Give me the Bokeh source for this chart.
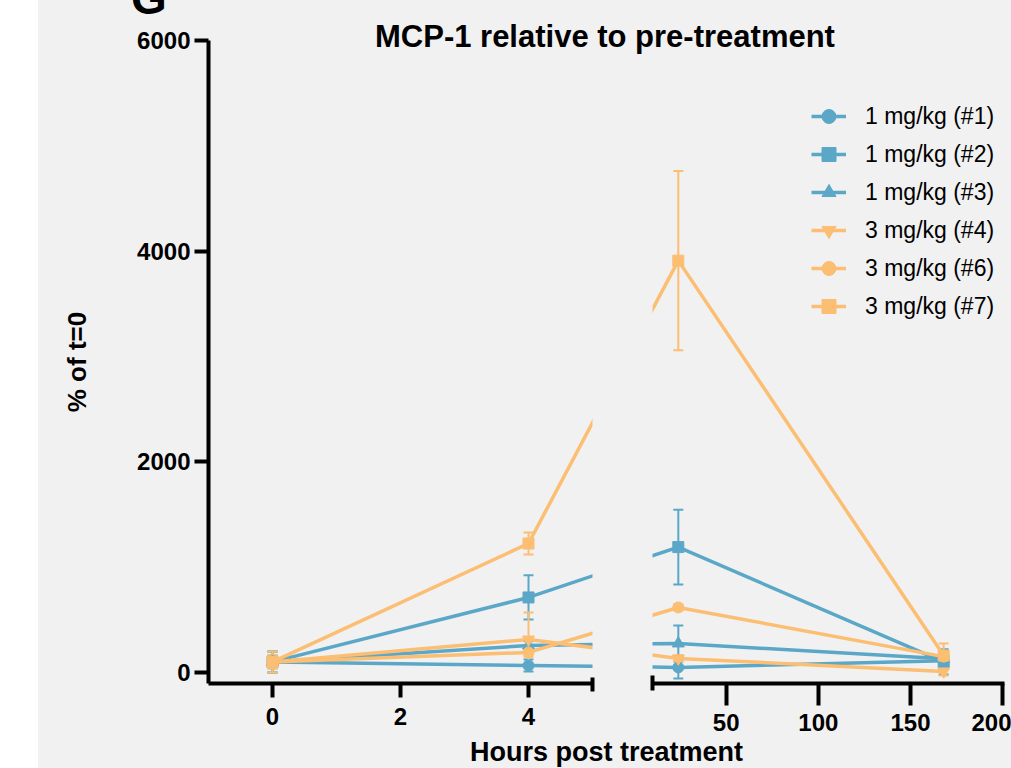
from bokeh.plotting import figure
from bokeh.models import (Range1d, FixedTicker, Whisker, TeeHead, Legend, LegendItem,
                          Div, ColumnDataSource)
from bokeh.layouts import row, column
from bokeh.embed import file_html
from bokeh.resources import INLINE

# ---------------- data ----------------
hours = [0, 4, 24, 168]
series_labels = ["1 mg/kg (#1)", "1 mg/kg (#2)", "1 mg/kg (#3)",
                 "3 mg/kg (#4)", "3 mg/kg (#6)", "3 mg/kg (#7)"]
mean_1 = [100, 66, 48, 110]
err_1 = [100, 56, 105, 40]
mean_2 = [100, 712, 1190, 100]
err_2 = [60, 210, 355, 120]
mean_3 = [100, 256, 275, 130]
err_3 = [100, 40, 170, 40]
mean_4 = [100, 313, 133, 10]
err_4 = [100, 256, 30, 40]
mean_6 = [100, 190, 617, 150]
err_6 = [60, 40, 30, 40]
mean_7 = [100, 1224, 3910, 160]
err_7 = [60, 105, 850, 115]
y_ticks = [0, 2000, 4000, 6000]
left_ticks = [0, 2, 4]
right_ticks = [50, 100, 150, 200]
title_text = "MCP-1 relative to pre-treatment"
x_label = "Hours post treatment"
y_label = "% of t=0"
panel_letter = "G"

means = [mean_1, mean_2, mean_3, mean_4, mean_6, mean_7]
errs = [err_1, err_2, err_3, err_4, err_6, err_7]

# ---------------- styles / layout ----------------
BLUE = "#5BA7C8"
ORANGE = "#FBBE72"
colors = [BLUE, BLUE, BLUE, ORANGE, ORANGE, ORANGE]
markers = ["circle", "square", "triangle", "inverted_triangle", "circle", "square"]
msize = [11, 11, 12, 12, 11, 11]
FONT = "Liberation Sans"

LEFT_X = (-1, 5)
RIGHT_X = (10, 201)
Y_R = (-105, 6000)
LEFT_W, RIGHT_W, FRAME_H = 384, 352, 643
L_BORDER_R, R_BORDER_L = 10, 50
GAP = L_BORDER_R + R_BORDER_L
TOTAL_W = 973

sL = LEFT_W / (LEFT_X[1] - LEFT_X[0])
sR = RIGHT_W / (RIGHT_X[1] - RIGHT_X[0])


def right_to_left(h):
    # position of a right-panel hour in left-panel coordinates (line across the break)
    return LEFT_X[1] + (GAP + (h - RIGHT_X[0]) * sR) / sL


def left_to_right(h):
    return RIGHT_X[0] - (GAP + (LEFT_X[1] - h) * sL) / sR


yr = Range1d(*Y_R)

common = dict(frame_height=FRAME_H, y_range=yr, output_backend="svg",
              toolbar_location=None, min_border_top=40, min_border_bottom=55)
pL = figure(frame_width=LEFT_W, x_range=Range1d(*LEFT_X),
            min_border_left=170, min_border_right=L_BORDER_R, **common)
rw = TOTAL_W - (170 + LEFT_W + L_BORDER_R) - R_BORDER_L - RIGHT_W
pR = figure(frame_width=RIGHT_W, x_range=Range1d(*RIGHT_X), y_axis_location=None,
            min_border_left=R_BORDER_L, min_border_right=rw, **common)

for p in (pL, pR):
    p.background_fill_color = None
    p.border_fill_color = None
    p.outline_line_color = None
    p.grid.visible = False
    for ax in p.axis:
        ax.axis_line_width = 4
        ax.axis_line_color = "black"
        ax.major_tick_line_width = 4
        ax.major_tick_line_color = "black"
        ax.minor_tick_line_width = 4
        ax.minor_tick_line_color = "black"
        ax.major_tick_in = 0
        ax.major_label_text_font = FONT
        ax.major_label_text_font_style = "bold"
        ax.major_label_text_font_size = "24px"
        ax.major_label_text_color = "black"

# y axis
pL.yaxis.ticker = FixedTicker(ticks=y_ticks, minor_ticks=[])
pL.yaxis.major_tick_out = 14
pL.yaxis.major_label_standoff = 4
pL.yaxis.axis_label = y_label
pL.yaxis.axis_label_text_font = FONT
pL.yaxis.axis_label_text_font_style = "bold"
pL.yaxis.axis_label_text_font_size = "26px"
pL.yaxis.axis_label_text_color = "black"
pL.yaxis.axis_label_standoff = 42

# x axes with break markers
pL.xaxis.ticker = FixedTicker(ticks=left_ticks, minor_ticks=[LEFT_X[1]])
pL.xaxis.major_tick_out = 14
pL.xaxis.minor_tick_in = 6
pL.xaxis.minor_tick_out = 8
pL.xaxis.major_label_standoff = 10

pR.xaxis.ticker = FixedTicker(ticks=right_ticks, minor_ticks=[RIGHT_X[0]])
pR.xaxis.major_tick_out = 22
pR.xaxis.minor_tick_in = 8
pR.xaxis.minor_tick_out = 7
pR.xaxis.major_label_standoff = 8

items = []
for i, lab in enumerate(series_labels):
    m, e, c = means[i], errs[i], colors[i]
    # left panel: 0 h, 4 h, then line toward 24 h across the break
    pL.line([hours[0], hours[1], right_to_left(hours[2])], [m[0], m[1], m[2]],
            line_color=c, line_width=3.5, line_join="round")
    pL.scatter(hours[:2], m[:2], marker=markers[i], size=msize[i], color=c)
    srcL = ColumnDataSource(dict(x=hours[:2], lo=[m[k] - e[k] for k in range(2)],
                                 hi=[m[k] + e[k] for k in range(2)]))
    pL.add_layout(Whisker(source=srcL, base="x", lower="lo", upper="hi", line_color=c, line_width=2,
                          upper_head=TeeHead(size=10, line_color=c, line_width=2),
                          lower_head=TeeHead(size=10, line_color=c, line_width=2)))
    # right panel: line from 4 h across the break, 24 h, 168 h
    lr = pR.line([left_to_right(hours[1]), hours[2], hours[3]], [m[1], m[2], m[3]],
                 line_color=c, line_width=3.5, line_join="round")
    sr = pR.scatter(hours[2:], m[2:], marker=markers[i], size=msize[i], color=c)
    srcR = ColumnDataSource(dict(x=hours[2:], lo=[m[k] - e[k] for k in range(2, 4)],
                                 hi=[m[k] + e[k] for k in range(2, 4)]))
    pR.add_layout(Whisker(source=srcR, base="x", lower="lo", upper="hi", line_color=c, line_width=2,
                          upper_head=TeeHead(size=10, line_color=c, line_width=2),
                          lower_head=TeeHead(size=10, line_color=c, line_width=2)))
    items.append(LegendItem(label=lab, renderers=[lr, sr]))

legend = Legend(items=items, location=(159, 358), padding=0, margin=0, spacing=0,
                glyph_width=35, glyph_height=38, label_height=38, label_standoff=19,
                label_text_font=FONT, label_text_font_size="23px", label_text_color="black",
                background_fill_alpha=0, border_line_alpha=0)
pR.add_layout(legend)

title_div = Div(
    text=('<div style="position:relative; width:973px; height:56px;">'
          '<div style="position:absolute; left:93px; top:-25px; white-space:nowrap; '
          f"font-family:'{FONT}'; font-weight:bold; font-size:46px; line-height:46px; color:black;\">"
          f"{panel_letter}</div>"
          '<div style="position:absolute; left:337px; top:21px; white-space:nowrap; '
          f"font-family:'{FONT}'; font-weight:bold; font-size:31px; line-height:31px; color:black;\">"
          f"{title_text}</div></div>"),
    width=TOTAL_W, height=56, margin=(0, 0, -56, 0))
xlabel_div = Div(
    text=('<div style="position:relative; left:432px; top:1px; white-space:nowrap; '
          f"font-family:'{FONT}'; font-weight:bold; font-size:27px; line-height:27px; color:black;\">"
          f"{x_label}</div>"),
    width=TOTAL_W, height=30, margin=(0, 0, 0, 0))

layout = column(title_div, row(pL, pR), xlabel_div, margin=(0, 0, 0, 38),
                styles={"background-color": "#F1F1F1"})

open("out.html", "w").write(file_html(layout, INLINE))
